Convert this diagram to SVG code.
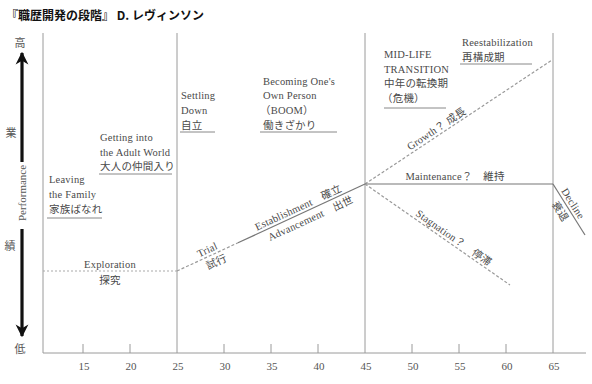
<svg xmlns="http://www.w3.org/2000/svg" width="592" height="384" viewBox="0 0 592 384">
<style>
.t{font-family:"Liberation Serif","Noto Sans CJK JP",serif;font-size:10.5px;fill:#4a4a4a;letter-spacing:0.2px}
.ax{font-family:"Liberation Serif","Noto Sans CJK JP",serif;font-size:11px;fill:#555;text-anchor:middle}
.m{text-anchor:middle}
.grid{stroke:#9a9a9a;stroke-width:1;fill:none}
.ul{stroke:#888;stroke-width:1}
.solid{stroke:#777;stroke-width:1.2;fill:none}
.dash{stroke:#999;stroke-width:1.2;fill:none;stroke-dasharray:3 2}
.dot{stroke:#aaa;stroke-width:1.2;fill:none;stroke-dasharray:2 2}
</style>
<defs>
<marker id="ah" viewBox="0 0 10 10" refX="9" refY="5" markerWidth="4" markerHeight="4.5" orient="auto">
<path d="M0,0 L10,5 L0,10 L3,5 Z" fill="#111"/>
</marker>
</defs>
<rect width="592" height="384" fill="#fff"/>
<text x="6" y="20" style="font-family:'Noto Sans CJK JP',sans-serif;font-size:12px;font-weight:bold;fill:#111">『職歴開発の段階』 D. レヴィンソン</text>

<g id="axes">
<line class="grid" x1="43" y1="33" x2="43" y2="353"/>
<line class="grid" x1="43" y1="353" x2="586" y2="353"/>
<line class="grid" x1="177" y1="33" x2="177" y2="353"/>
<line class="grid" x1="365" y1="33" x2="365" y2="353"/>
<line class="grid" x1="553" y1="33" x2="553" y2="353"/>
<g class="grid">
<line x1="83" y1="344" x2="83" y2="353"/><line x1="130" y1="344" x2="130" y2="353"/>
<line x1="224" y1="344" x2="224" y2="353"/><line x1="271" y1="344" x2="271" y2="353"/>
<line x1="318" y1="344" x2="318" y2="353"/><line x1="412" y1="344" x2="412" y2="353"/>
<line x1="459" y1="344" x2="459" y2="353"/><line x1="506" y1="344" x2="506" y2="353"/>
</g>
<g class="ax">
<text x="84" y="370">15</text><text x="131" y="370">20</text><text x="178" y="370">25</text>
<text x="225" y="370">30</text><text x="272" y="370">35</text><text x="319" y="370">40</text>
<text x="366" y="370">45</text><text x="413" y="370">50</text><text x="460" y="370">55</text>
<text x="507" y="370">60</text><text x="554" y="370">65</text>
</g>
<g class="ax">
<text x="20" y="47">高</text>
<text x="11" y="137">業</text>
<text x="10" y="250">績</text>
<text x="20" y="353">低</text>
<text transform="translate(26,193) rotate(-90)">Performance</text>
</g>
<line x1="22" y1="162" x2="22" y2="53" stroke="#111" stroke-width="3.2" marker-end="url(#ah)"/>
<line x1="22" y1="229" x2="22" y2="336" stroke="#111" stroke-width="3.2" marker-end="url(#ah)"/>
</g>

<g id="connectors">
<line class="dot" x1="43" y1="271" x2="177" y2="271"/>
<line class="dash" x1="177" y1="271" x2="238" y2="242.8"/>
<line class="solid" x1="238" y1="242.8" x2="365" y2="184"/>
<line class="dash" x1="365" y1="184" x2="552" y2="60"/>
<line class="solid" x1="365" y1="184" x2="553" y2="184"/>
<line class="dash" x1="365" y1="184" x2="510" y2="285"/>
<line class="solid" x1="553" y1="184" x2="585" y2="235"/>
</g>

<g id="leaving">
<text class="t" x="49" y="183">Leaving</text>
<text class="t" x="49" y="198">the Family</text>
<text class="t" x="49" y="213">家族ばなれ</text>
<line class="ul" x1="47" y1="218" x2="102" y2="218"/>
</g>
<g id="getting">
<text class="t" x="100" y="141">Getting into</text>
<text class="t" x="100" y="156">the Adult World</text>
<text class="t" x="100" y="170">大人の仲間入り</text>
<line class="ul" x1="99" y1="174" x2="172" y2="174"/>
</g>
<g id="settling">
<text class="t" x="181" y="99">Settling</text>
<text class="t" x="181" y="114">Down</text>
<text class="t" x="181" y="129">自立</text>
<line class="ul" x1="180" y1="132" x2="215" y2="132"/>
</g>
<g id="becoming">
<text class="t" x="263" y="85">Becoming One's</text>
<text class="t" x="263" y="99">Own Person</text>
<text class="t" x="260" y="114">（BOOM）</text>
<text class="t" x="263" y="129">働きざかり</text>
<line class="ul" x1="260" y1="132" x2="337" y2="132"/>
</g>
<g id="midlife">
<text class="t" x="384" y="58">MID-LIFE</text>
<text class="t" x="384" y="73">TRANSITION</text>
<text class="t" x="384" y="87">中年の転換期</text>
<text class="t" x="382" y="102">（危機）</text>
<line class="ul" x1="384" y1="108" x2="446" y2="108"/>
</g>
<g id="reestab">
<text class="t" x="462" y="46">Reestabilization</text>
<text class="t" x="462" y="61">再構成期</text>
<line class="ul" x1="460" y1="64" x2="532" y2="64"/>
</g>
<g id="exploration">
<text class="t m" x="110" y="268">Exploration</text>
<text class="t m" x="110" y="284">探究</text>
</g>
<g id="trial">
<text class="t m" transform="translate(210,255.7) rotate(-24.8)" y="-3">Trial</text>
<text class="t m" transform="translate(213,254.3) rotate(-24.8)" y="12">試行</text>
</g>
<g id="establishment">
<text class="t m" transform="translate(301,213.6) rotate(-24.8)" y="-3">Establishment　確立</text>
<text class="t m" transform="translate(307,210.8) rotate(-24.8)" y="12">Advancement　出世</text>
</g>
<g id="growth">
<text class="t m" transform="translate(440,134.3) rotate(-33.5)" y="-3">Growth？ 成長</text>
</g>
<g id="maintenance">
<text class="t m" x="455" y="180">Maintenance？　維持</text>
</g>
<g id="stagnation">
<text class="t m" transform="translate(450,243.2) rotate(34.9)" y="-3">Stagnation？　停滞</text>
</g>
<g id="decline">
<text class="t m" transform="translate(567.4,207) rotate(57.9)" y="-3">Decline</text>
<text class="t m" transform="translate(567.4,207) rotate(57.9)" y="12">衰退</text>
</g>
</svg>
